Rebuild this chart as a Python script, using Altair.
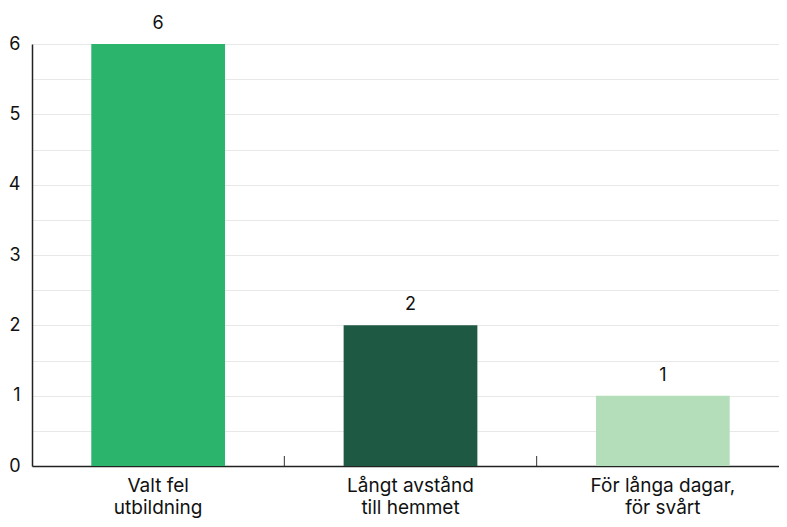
import altair as alt
import pandas as pd

categories = ["Valt fel\nutbildning", "Långt avstånd\ntill hemmet", "För långa dagar,\nför svårt"]
values = [6, 2, 1]
colors = ["#2bb46c", "#1e5a43", "#b4ddba"]
y_ticks = [0, 0.5, 1, 1.5, 2, 2.5, 3, 3.5, 4, 4.5, 5, 5.5, 6]

df = pd.DataFrame({"cat": categories, "val": values, "color": colors})
tick_df = pd.DataFrame({"cat": categories[:-1]})

W = 757
H = 422
FONT = "Inter"

x_scale = alt.Scale(domain=categories, paddingInner=0, paddingOuter=0)
y_scale = alt.Scale(domain=[0, 6], nice=False)

x_axis = alt.Axis(labelAngle=0, labelFont=FONT, labelFontSize=19,
                  labelColor="#111", labelExpr="split(datum.label, '\\n')",
                  labelLineHeight=22, labelPadding=10, ticks=False,
                  domainColor="#222", domainWidth=1.5, labelBaseline="top")
y_axis = alt.Axis(values=y_ticks,
                  labelExpr="datum.value % 1 == 0 ? format(datum.value, 'd') : ''",
                  labelFont=FONT, labelFontSize=18, labelColor="#111",
                  ticks=False, labelPadding=12, domainColor="#222",
                  domainWidth=1.5, grid=True, gridColor="#e8e8e8", gridWidth=1.2)

X = alt.X("cat:N", scale=x_scale, sort=categories, title=None, axis=x_axis)
Y = alt.Y("val:Q", scale=y_scale, title=None, axis=y_axis)

bars = alt.Chart(df).mark_bar(width=alt.RelativeBandSize(0.53)).encode(
    x=X, y=Y,
    color=alt.Color("color:N", scale=None),
)

text = alt.Chart(df).mark_text(dy=-20, font=FONT, fontSize=18, color="#111",
                               baseline="middle").encode(
    x=X, y=Y,
    text=alt.Text("val:Q"),
)

ticks = alt.Chart(tick_df).mark_rule(color="#333", strokeWidth=1).encode(
    x=alt.X("cat:N", scale=x_scale, sort=categories, bandPosition=1, title=None, axis=x_axis),
    y=alt.value(H - 10),
    y2=alt.value(H),
)

chart = alt.layer(bars, text, ticks).properties(
    width=W, height=H,
    autosize=alt.AutoSizeParams(type="none"),
    padding={"left": 24, "top": 36, "right": -10, "bottom": 53},
).configure_view(stroke=None)

chart.save("out.html", embed_options={"renderer": "svg", "actions": False})
